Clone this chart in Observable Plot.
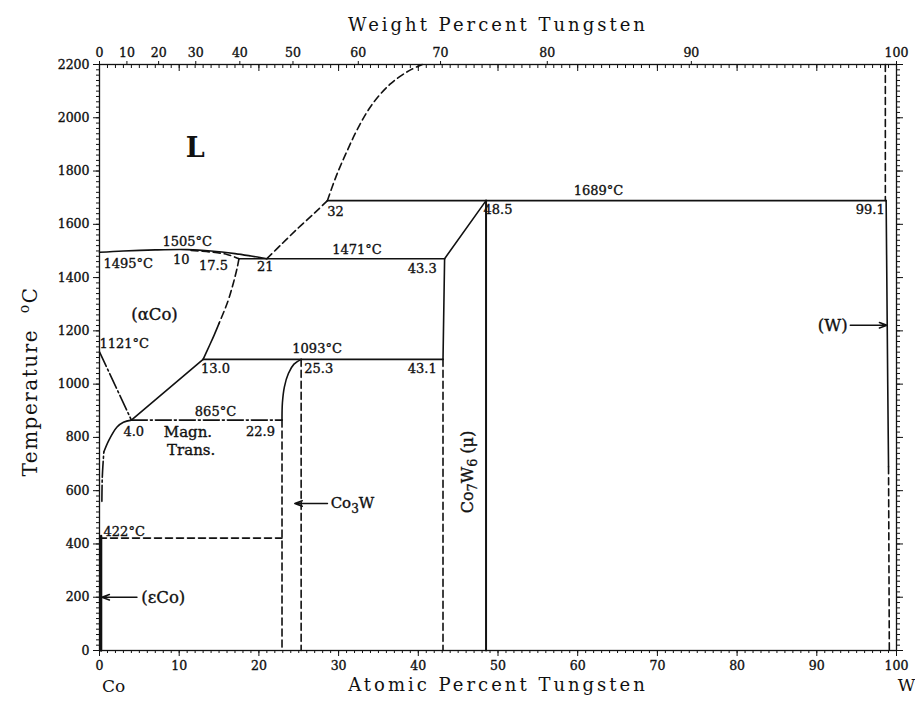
<!DOCTYPE html>
<html><head><meta charset="utf-8">
<script src="https://cdn.jsdelivr.net/npm/d3@7"></script>
<script src="https://cdn.jsdelivr.net/npm/@observablehq/plot@0.6"></script>
<style>
body{margin:0;background:#fff}
svg text.ink{stroke:#111;stroke-width:0.35px;paint-order:stroke}
</style>
</head><body><div id="chart"></div>
<script>
// ---- tick values ----
const xTicksMajor = [0,10,20,30,40,50,60,70,80,90,100];
const yTicksMajor = [0,200,400,600,800,1000,1200,1400,1600,1800,2000,2200];
const wtTickLabels = [0,10,20,30,40,50,60,70,80,90,100];

// ---- phase boundaries [atomic % W, °C] ----
const liquidusCo      = [[0,1495],[3,1500],[7,1504],[11,1505],[14,1500],[17,1490],[19,1481],[21,1471]];
const solidusCoDash   = [[11.5,1502],[14,1496],[16,1487],[17.5,1471]];
const alphaSolvusDash = [[17.5,1471],[17.3,1440],[16.8,1380],[16.1,1310],[15.0,1228]];
const alphaSolvus     = [[15.0,1228],[14.4,1185],[13.8,1145],[13.0,1093]];
const peritectic1471  = [[17.5,1471],[43.3,1471]];
const eutectoid1093   = [[13.0,1093],[43.1,1093]];
const line1121        = [[0,1121],[4.0,865]];
const gammaSolvus     = [[4.0,865],[13.0,1093]];
const line865         = [[4.0,865],[22.9,865]];
const co3wUpper       = [[22.9,865],[22.95,930],[23.2,990],[23.7,1040],[24.4,1075],[25.3,1093]];
const co3wLeft        = [[22.9,865],[22.9,0]];
const co3wRight       = [[25.3,1093],[25.3,0]];
const line422         = [[0,422],[22.9,422]];
const magnLower       = [[0.3,560],[0.35,650],[0.54,745]];
const magnUpper       = [[0.54,745],[1.17,789],[2.2,839],[3.0,857],[4.0,865]];
const epsCo           = [[0.2,0],[0.2,430]];
const liquidusW1      = [[21,1471],[23,1530],[25,1588],[27,1643],[28.6,1689]];
const liquidusW2      = [[28.6,1689],[29.7,1781],[31.0,1871],[32.5,1965],[34.25,2052],[36.5,2127],[38.8,2176],[40.5,2200]];
const peritectic1689  = [[28.6,1689],[98.7,1689]];
const muSlope         = [[43.3,1471],[48.5,1689]];
const muLeft          = [[43.3,1471],[43.1,1093]];
const muLeftDash      = [[43.1,1093],[43.1,0]];
const muRight         = [[48.5,1689],[48.5,0]];
const wSolvusTop      = [[98.6,2200],[98.6,1689]];
const wSolvus         = [[98.7,1689],[98.9,1000],[99.0,690]];
const wSolvusDash     = [[99.0,690],[99.1,0]];

// ---- annotations ----
const numberLabels = [
  {t:"1505°C", x:11.0, y:1534}, {t:"1495°C", x:3.6, y:1452}, {t:"10", x:10.25, y:1466},
  {t:"17.5", x:14.3, y:1445}, {t:"21", x:20.8, y:1440}, {t:"1471°C", x:32.3, y:1503},
  {t:"1121°C", x:3.1, y:1153}, {t:"1093°C", x:27.3, y:1134},
  {t:"13.0", x:14.55, y:1059}, {t:"25.3", x:27.5, y:1059}, {t:"43.1", x:40.5, y:1059},
  {t:"43.3", x:40.5, y:1434}, {t:"32", x:29.6, y:1647}, {t:"48.5", x:50.0, y:1653},
  {t:"1689°C", x:62.6, y:1725}, {t:"99.1", x:96.7, y:1653}, {t:"865°C", x:14.55, y:896},
  {t:"4.0", x:4.3, y:820}, {t:"22.9", x:20.2, y:820}, {t:"422°C", x:3.1, y:445}
];
const phaseLabels = [
  {t:"(αCo)", x:6.9, y:1259}, {t:"(εCo)", x:8.0, y:200}, {t:"(W)", x:92.0, y:1221}
];
const noteLabels = [{t:"Magn.", x:11.1, y:820}, {t:"Trans.", x:11.5, y:752}];
const co3wLabel = [{t:"Co3W", x:29.0, y:552}];
const muLabel = [{t:"Co7W6 (μ)", x:46.2, y:670}];
const liquidLabel = [{t:"L", x:12.0, y:1886}];
const arrows = [
  {x1:4.7, y1:200, x2:0.3, y2:200},
  {x1:28.6, y1:552, x2:24.5, y2:552},
  {x1:94.2, y1:1221, x2:98.8, y2:1221}
];

const M_W = 183.84, M_CO = 58.933;
const wtToAt = w => 100 * (w / M_W) / (w / M_W + (100 - w) / M_CO);
const atToWt = a => 100 * a * M_W / (a * M_W + (100 - a) * M_CO);

const ink = "#111";
const sw = 1.6;
const solid = {stroke: ink, strokeWidth: sw};
const dashed = {stroke: ink, strokeWidth: sw, strokeDasharray: "7,4"};
const dashDot = {stroke: ink, strokeWidth: sw, strokeDasharray: "16,3,2,3"};
const L = (data, style, curve = "linear") => Plot.line(data, {x: d => d[0], y: d => d[1], curve, ...style});

const font = "DejaVu Serif";
const blank = () => "";
const num = d => String(d);

const chart = Plot.plot({
  width: 915, height: 704,
  marginLeft: 99, marginRight: 19, marginTop: 64, marginBottom: 54,
  x: {domain: [0, 100], axis: null},
  y: {domain: [0, 2200], axis: null},
  style: {fontFamily: font, fontSize: "12px", background: "#fff", color: ink},
  marks: [
    Plot.frame({stroke: ink, strokeWidth: 1.3}),
    // bottom axis
    Plot.axisX(d3.range(0, 101, 1), {anchor: "bottom", tickSize: 3, tickFormat: blank, label: null}),
    Plot.axisX(xTicksMajor, {anchor: "bottom", tickSize: 6, tickPadding: 5, tickFormat: num, label: null, fontSize: 12.5}),
    // top axis: atomic ticks inward, weight ticks outward with labels
    Plot.axisX(d3.range(0, 101, 1), {anchor: "top", tickSize: 3, dy: 3, tickFormat: blank, label: null}),
    Plot.axisX(xTicksMajor, {anchor: "top", tickSize: 6, dy: 6, tickFormat: blank, label: null}),
    Plot.axisX(wtTickLabels.map(wtToAt), {anchor: "top", tickSize: 4, tickPadding: 4, label: null,
      tickFormat: d => String(Math.round(atToWt(d))), fontSize: 12.5}),
    // left axis
    Plot.axisY(d3.range(0, 2201, 20), {anchor: "left", tickSize: 3, tickFormat: blank, label: null}),
    Plot.axisY(yTicksMajor, {anchor: "left", tickSize: 6, tickPadding: 4, tickFormat: num, label: null, fontSize: 12.5}),
    // right axis
    Plot.axisY(d3.range(0, 2201, 20), {anchor: "right", tickSize: 3, tickFormat: blank, label: null}),
    Plot.axisY(yTicksMajor, {anchor: "right", tickSize: 6, tickFormat: blank, label: null}),

    // phase boundaries
    L(liquidusCo, solid, "catmull-rom"),
    L(solidusCoDash, dashed, "catmull-rom"),
    L(alphaSolvusDash, dashed, "catmull-rom"),
    L(alphaSolvus, solid, "catmull-rom"),
    L(peritectic1471, solid),
    L(eutectoid1093, solid),
    L(line1121, dashDot),
    L(gammaSolvus, solid),
    L(line865, dashDot),
    L(co3wUpper, solid, "catmull-rom"),
    L(co3wLeft, dashed),
    L(co3wRight, dashed),
    L(line422, dashed),
    L(magnLower, dashDot, "catmull-rom"),
    L(magnUpper, solid, "catmull-rom"),
    L(epsCo, {stroke: ink, strokeWidth: 2.4}),
    L(liquidusW1, dashed, "catmull-rom"),
    L(liquidusW2, dashed, "catmull-rom"),
    L(peritectic1689, solid),
    L(muSlope, solid),
    L(muLeft, solid),
    L(muLeftDash, dashed),
    L(muRight, {stroke: ink, strokeWidth: 2}),
    L(wSolvusTop, dashed),
    L(wSolvus, solid),
    L(wSolvusDash, dashed),

    Plot.arrow(arrows, {x1: "x1", y1: "y1", x2: "x2", y2: "y2", stroke: ink, strokeWidth: 1.5, headLength: 8, headAngle: 40}),

    // labels
    Plot.text(numberLabels, {x: "x", y: "y", text: "t", fontSize: 13, fill: ink}),
    Plot.text(phaseLabels, {x: "x", y: "y", text: "t", fontSize: 16.5, fill: ink}),
    Plot.text(noteLabels, {x: "x", y: "y", text: "t", fontSize: 15, fill: ink}),
    Plot.text(co3wLabel, {x: "x", y: "y", text: "t", fontSize: 15, fill: ink, textAnchor: "start"}),
    Plot.text(muLabel, {x: "x", y: "y", text: "t", fontSize: 16, fill: ink, rotate: -90}),
    Plot.text(liquidLabel, {x: "x", y: "y", text: "t", fontSize: 27, fontWeight: "bold", fill: ink}),

    // axis titles
    Plot.text(["Weight Percent Tungsten"], {frameAnchor: "top", dy: -46, fontSize: 18, fill: ink}),
    Plot.text(["Atomic Percent Tungsten"], {frameAnchor: "bottom", dy: 40, fontSize: 18, fill: ink}),
    Plot.text([{t: "Temperature oC", y: 1010}], {y: "y", text: "t", frameAnchor: "left", textAnchor: "middle", dx: -69, rotate: -90, fontSize: 20, fill: ink}),
    Plot.text([{t: "Co", x: 0}], {x: "x", text: "t", frameAnchor: "bottom", textAnchor: "middle", dy: 41, dx: 14, fontSize: 17, fill: ink}),
    Plot.text([{t: "W", x: 100}], {x: "x", text: "t", frameAnchor: "bottom", textAnchor: "middle", dy: 40, dx: 10, fontSize: 17, fill: ink})
  ]
});

// typographic touches: letter spacing, sub/superscripts, heavier ink like the scan
const NS = "http://www.w3.org/2000/svg";
function rich(el, parts, shift) {
  el.textContent = "";
  for (const [s, kind] of parts) {
    const t = document.createElementNS(NS, "tspan");
    t.textContent = s;
    if (kind === "sub") { t.setAttribute("dy", String(shift)); t.setAttribute("font-size", "0.8em"); }
    if (kind === "sup") { t.setAttribute("dy", String(-2 * shift)); t.setAttribute("font-size", "0.7em"); }
    if (kind === "backSub") t.setAttribute("dy", String(-shift));
    if (kind === "backSup") t.setAttribute("dy", String(2 * shift));
    el.appendChild(t);
  }
}
const plain = new Set(["Weight Percent Tungsten", "Atomic Percent Tungsten", "Temperature oC", "Co", "W", "L"]);
d3.select(chart).selectAll("text").each(function() {
  const s = this.textContent;
  if (s === "Weight Percent Tungsten" || s === "Atomic Percent Tungsten") {
    this.style.letterSpacing = "3px";
  } else if (s === "Temperature oC") {
    this.style.letterSpacing = "1.5px";
    rich(this, [["Temperature  ", null], ["o", "sup"], ["C", "backSup"]], 4);
  } else if (s === "Co3W") {
    this.classList.add("ink");
    rich(this, [["Co", null], ["3", "sub"], ["W", "backSub"]], 4.5);
  } else if (s === "Co7W6 (μ)") {
    this.classList.add("ink");
    rich(this, [["Co", null], ["7", "sub"], ["W", "backSub"], ["6", "sub"], [" (μ)", "backSub"]], 4.5);
  } else if (!plain.has(s)) {
    this.classList.add("ink");
  }
});
document.getElementById("chart").appendChild(chart);
</script>
</body></html>
